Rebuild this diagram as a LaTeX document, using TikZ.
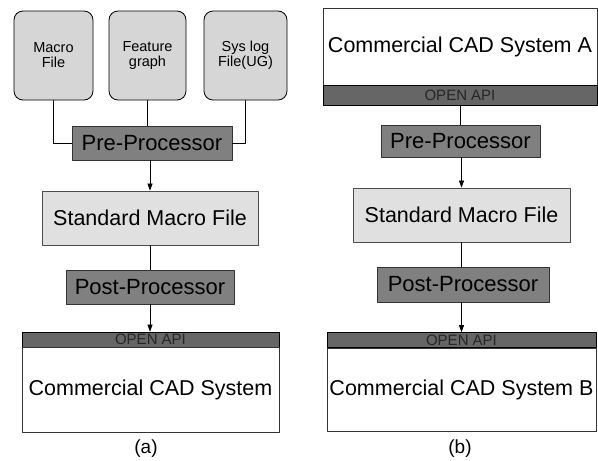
\documentclass[tikz,border=0pt]{standalone}
\usepackage{fontspec}
\setmainfont{Liberation Sans}
\usetikzlibrary{arrows.meta}

\begin{document}
\begin{tikzpicture}[line cap=round,line join=round,>={Triangle[length=7pt,width=5pt]},x=1pt,y=-1pt,
    srcfile/.style={draw=black,line width=0.8pt,rounded corners=9pt,fill=black!16,minimum height=89pt,inner sep=0pt,align=center,font=\fontsize{14.5}{15}\selectfont},
    proc/.style={draw=black!80,line width=0.6pt,fill=black!50,inner sep=0pt,font=\fontsize{22}{24}\selectfont},
    macrobox/.style={draw=black!70,line width=0.8pt,fill=black!12,inner sep=0pt,minimum height=54pt,font=\fontsize{21.5}{24}\selectfont},
    apibar/.style={draw=black,line width=0.6pt,fill=black!60,inner sep=0pt,minimum height=15pt,text=black!85,font=\fontsize{15}{16}\selectfont},
    cadbox/.style={draw=black!80,line width=0.6pt,fill=white,inner sep=0pt,font=\fontsize{21.5}{24}\selectfont},
    caption/.style={font=\fontsize{19}{21}\selectfont}]
                \useasboundingbox (0,0) rectangle (598,461);
                % (a)
                \node[srcfile,minimum width=79pt] (macro) at (53.5,55.5) {Macro\\File};
                \node[srcfile,minimum width=77pt] (feature) at (147.5,55.5) {Feature\\graph};
                \node[srcfile,minimum width=83pt] (syslog) at (245.5,55.5) {Sys log\\File(UG)};
                \node[proc,minimum width=160pt,minimum height=34pt] (preA) at (152,143) {Pre-Processor};
                \node[macrobox,minimum width=216pt] (smfA) at (150,218) {Standard Macro File};
                \node[proc,minimum width=168pt,minimum height=34pt] (postA) at (150,287) {Post-Processor};
                \node[apibar,minimum width=257pt] (apiA) at (150.5,339.5) {OPEN API};
                \node[cadbox,minimum width=257pt,minimum height=85pt,anchor=north] (cadA) at (apiA.south) {Commercial CAD System};
                \node[caption] (capA) at (146,449) {(a)};
                \draw [line width=0.6pt] (macro.south) |- (preA.west);
                \draw [line width=0.6pt] (feature.south) -- (feature.south |- preA.north);
                \draw [line width=0.6pt] (syslog.south) |- (preA.east);
                \draw [line width=0.6pt,->] (smfA.north |- preA.south) -- (smfA.north);
                \draw [line width=0.6pt] (smfA.south) -- (postA.north);
                \draw [line width=0.6pt,->] (postA.south) -- (postA.south |- apiA.north);
                % (b)
                \node[cadbox,minimum width=274pt,minimum height=77pt] (cadB1) at (460,46.5) {Commercial CAD System A};
                \node[apibar,minimum width=274pt,minimum height=20pt,anchor=north] (apiB1) at (cadB1.south) {OPEN API};
                \node[proc,minimum width=159pt,minimum height=32pt] (preB) at (460.5,141) {Pre-Processor};
                \node[macrobox,minimum width=217pt] (smfB) at (461.5,215) {Standard Macro File};
                \node[proc,minimum width=172pt,minimum height=35pt] (postB) at (463,284.5) {Post-Processor};
                \node[apibar,minimum width=269pt] (apiB2) at (461.5,340) {OPEN API};
                \node[cadbox,minimum width=269pt,minimum height=83pt,anchor=north] (cadB2) at (apiB2.south) {Commercial CAD System B};
                \node[caption] (capB) at (460,449) {(b)};
                \draw [line width=0.6pt] (preB.north |- apiB1.south) -- (preB.north);
                \draw [line width=0.6pt,->] (smfB.north |- preB.south) -- (smfB.north);
                \draw [line width=0.6pt] (smfB.south) -- (smfB.south |- postB.north);
                \draw [line width=0.6pt,->] (apiB2.north |- postB.south) -- (apiB2.north);
\end{tikzpicture}
\end{document}
